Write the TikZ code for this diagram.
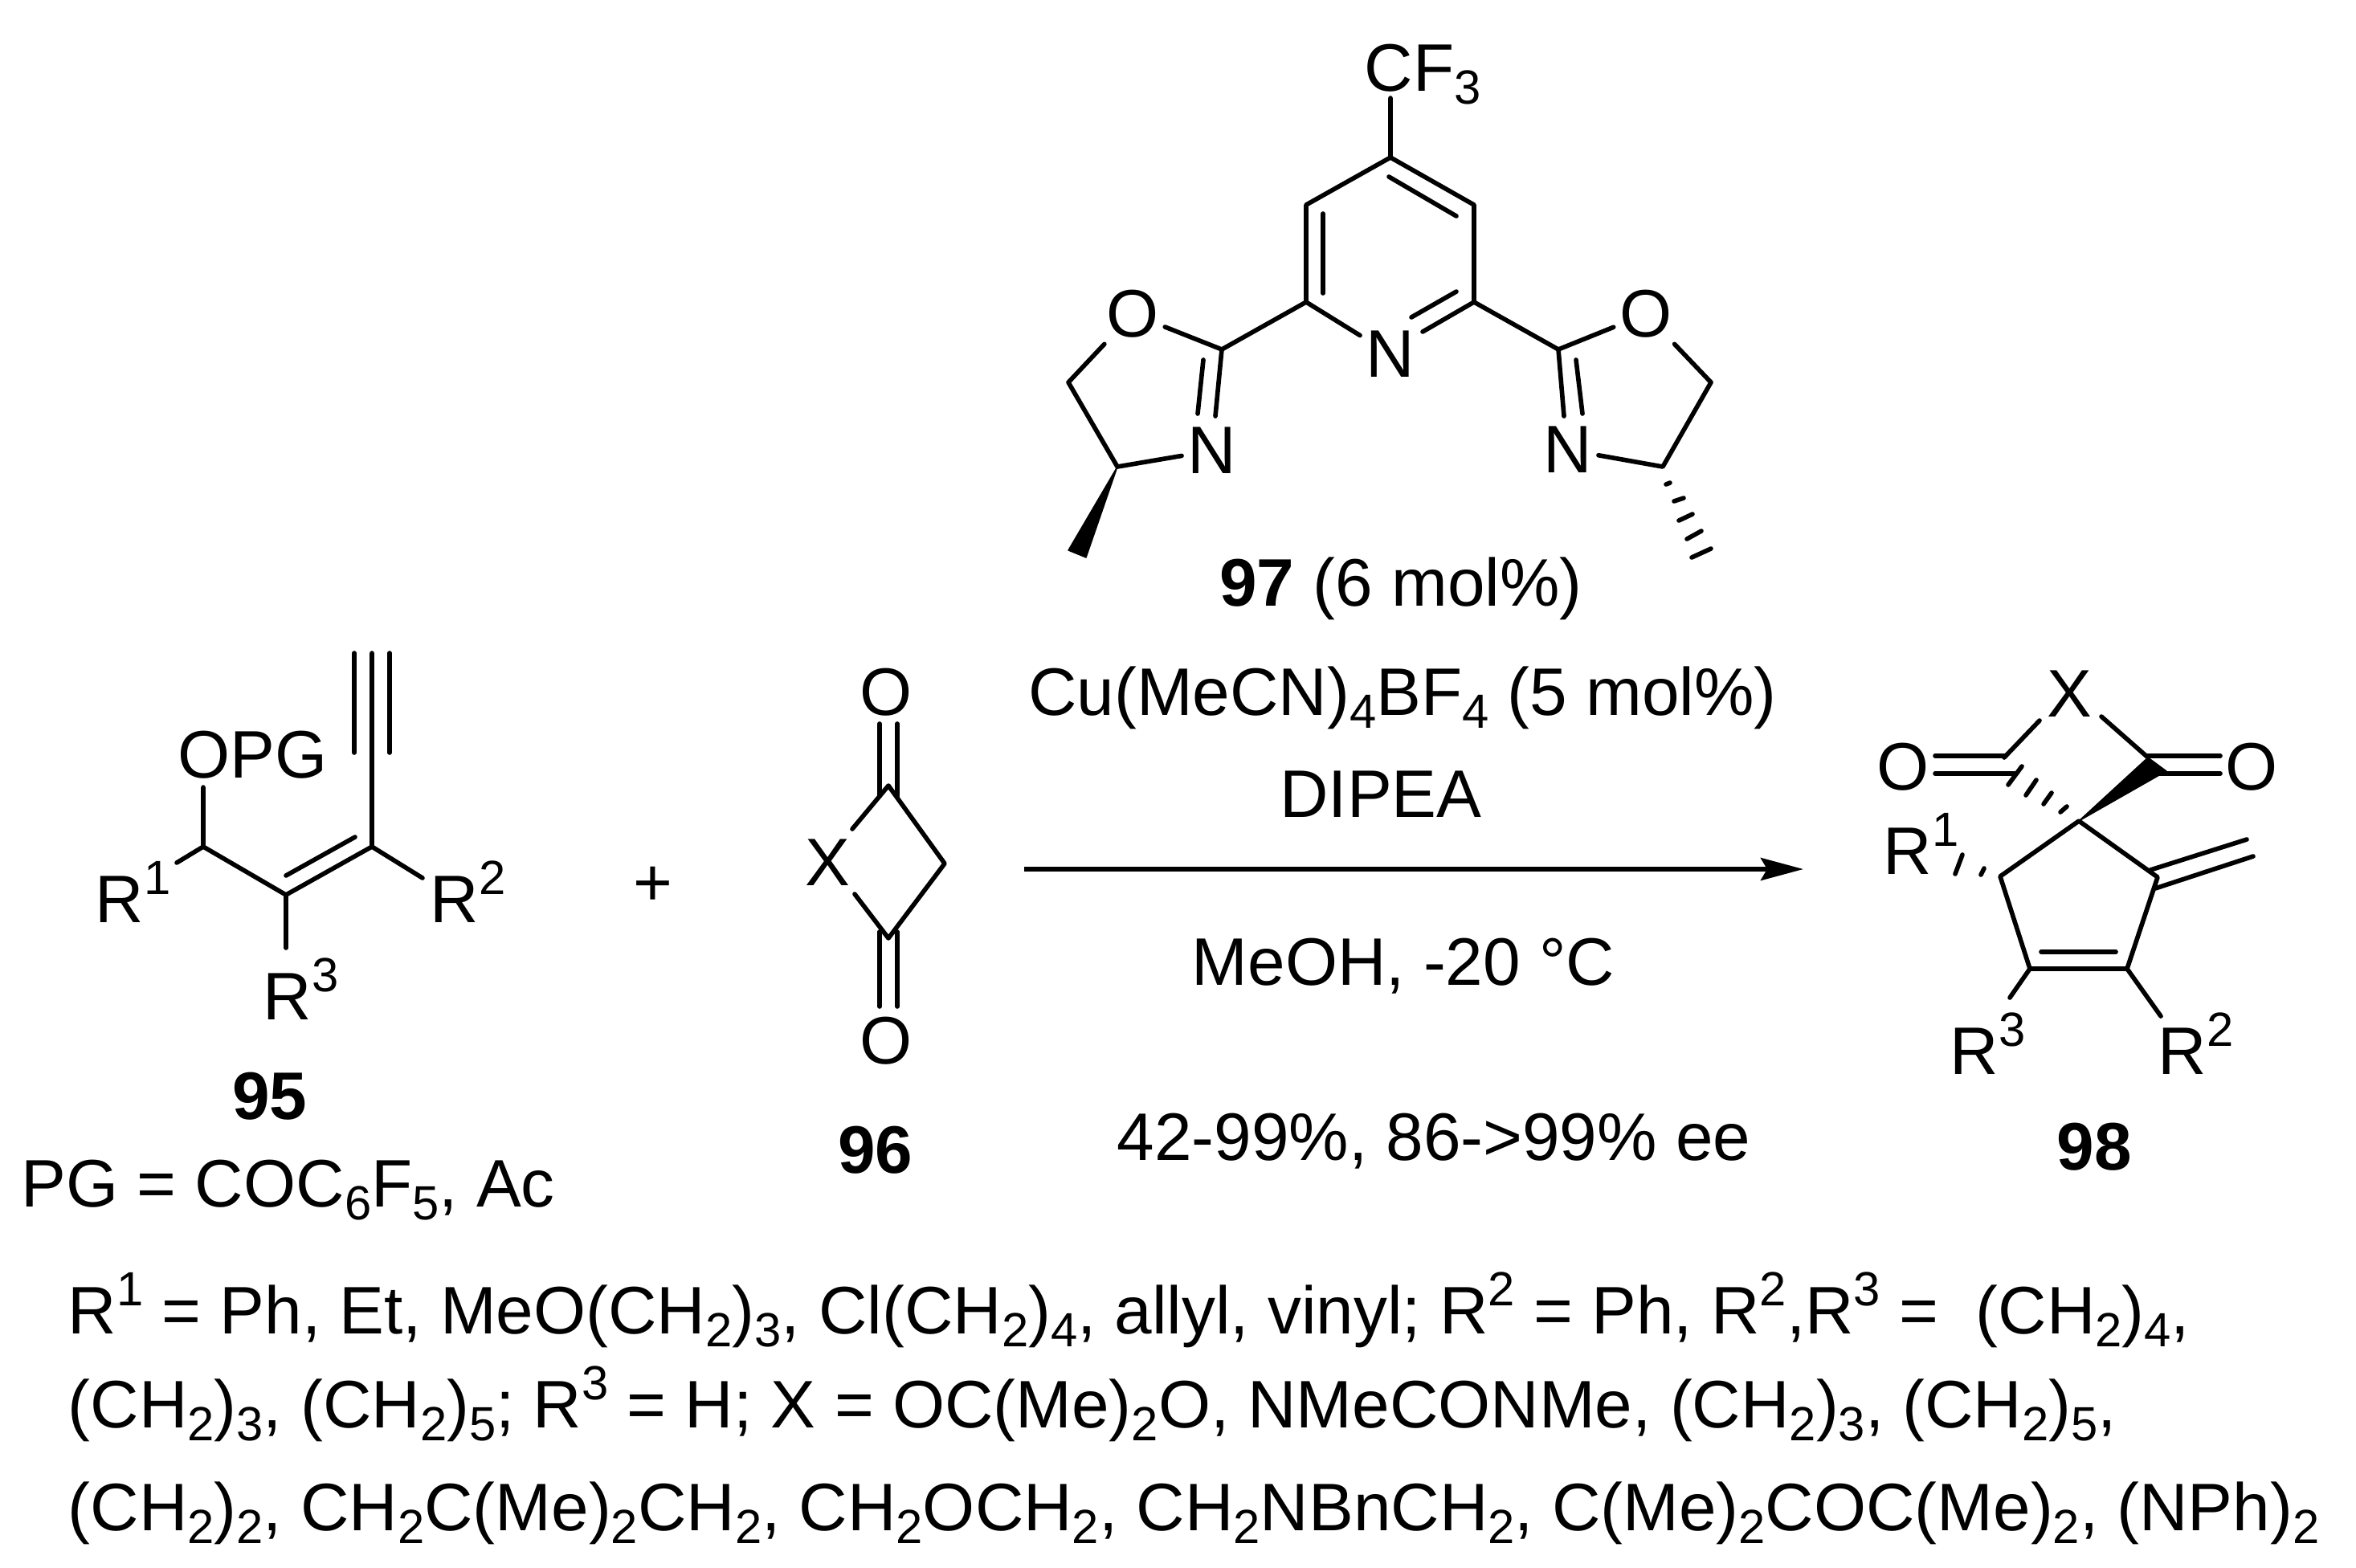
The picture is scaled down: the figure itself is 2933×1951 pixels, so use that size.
\documentclass[tikz,border=0pt]{standalone}
\usepackage{fontspec}
\setmainfont{Liberation Sans}
\usetikzlibrary{arrows.meta}
\newcommand{\sbs}[1]{\raisebox{-0.2em}{\fontsize{17}{18}\selectfont #1}}
\newcommand{\sps}[1]{\raisebox{0.41em}{\fontsize{17}{18}\selectfont #1}}
\tikzset{
	bond/.style={line width=1.6pt, line cap=round, line join=round},
	hashb/.style={line width=1.6pt, line cap=round},
	wedgeb/.style={fill=black, draw=black, line width=0.4pt, line join=round},
	atom/.style={inner sep=0.07cm, font=\fontsize{23.8}{27}\selectfont},
	lbl/.style={anchor=base west, inner sep=0pt, font=\fontsize{23.8}{27}\selectfont},
	cpd/.style={anchor=base, inner sep=0pt, font=\fontsize{23.8}{27}\selectfont\bfseries},
}
\begin{document}
\begin{tikzpicture}[x=0.01cm, y=-0.01cm]
	\useasboundingbox (0,0) rectangle (2933,1951);

	%%%%% ligand 97 %%%%%
	\coordinate (c4) at (1731,196);
	\coordinate (c3r) at (1835,255);
	\coordinate (c2r) at (1835,376);
	\coordinate (c3l) at (1626,255);
	\coordinate (c2l) at (1626,376);
	\coordinate (oxl) at (1521,435);
	\coordinate (chl) at (1330,476);
	\coordinate (cml) at (1391,581);
	\coordinate (oxr) at (1940,435);
	\coordinate (chr) at (2130,476);
	\coordinate (cmr) at (2070,581);
	\node[atom] (npy) at (1731,441) {N};
	\node[atom] (ool) at (1410,391) {O};
	\node[atom] (nol) at (1509,561) {N};
	\node[atom] (oor) at (2049,391) {O};
	\node[atom] (nor) at (1952,560) {N};
	\node[lbl] (cf) at (1698,113) {CF\sbs{3}};
	\coordinate (cft) at (1731,122);

	\draw[bond] (cft) -- (c4) -- (c3r) -- (c2r);
	\draw[bond] (c4) -- (c3l) -- (c2l) -- (npy);
	\draw[bond] (c2r) -- (1771,413);
	\draw[bond] (1757,395) -- (1813,363);
	\draw[bond] (1647,266) -- (1647,365);
	\draw[bond] (1729,220) -- (1813,269);
	\draw[bond] (c2l) -- (oxl) -- (ool);
	\draw[bond] (ool) -- (chl) -- (cml) -- (nol);
	\draw[bond] (oxl) -- (1513,518);
	\draw[bond] (1498,448) -- (1491,515);
	\draw[wedgeb] (cml) -- (1330,685) -- (1352,694) -- cycle;
	\draw[bond] (c2r) -- (oxr) -- (oor);
	\draw[bond] (oor) -- (chr) -- (cmr) -- (nor);
	\draw[bond] (oxr) -- (1947,518);
	\draw[bond] (1962,448) -- (1970,515);
	\draw[hashb] (2074,603) -- (2079,601);
	\draw[hashb] (2084,624) -- (2096,620);
	\draw[hashb] (2090,648) -- (2107,640);
	\draw[hashb] (2100,671) -- (2118,661);
	\draw[hashb] (2106,694) -- (2130,683);

	%%%%% enyne 95 %%%%%
	\coordinate (a1) at (253,1054);
	\coordinate (a2) at (356,1114);
	\coordinate (a3) at (463,1054);
	\coordinate (opgb) at (253,980);
	\coordinate (r1b) at (220,1074);
	\coordinate (r2b) at (526,1093);
	\coordinate (r3b) at (356,1180);
	\coordinate (tri) at (463,813);
	\node[lbl] (opg) at (221,968) {OPG};
	\node[lbl] (ar1) at (118,1148) {R\sps{1}};
	\node[lbl] (ar2) at (535,1148) {R\sps{2}};
	\node[lbl] (ar3) at (327,1269) {R\sps{3}};
	\node[cpd] (n95) at (336,1393) {95};
	\node[lbl] (pgdef) at (26,1502) {PG = COC\sbs{6}F\sbs{5}, Ac};
	\node[atom] (plus) at (813,1103) {+};

	\draw[bond] (opgb) -- (a1) -- (a2) -- (a3) -- (tri);
	\draw[bond] (a1) -- (r1b);
	\draw[bond] (a3) -- (r2b);
	\draw[bond] (a2) -- (r3b);
	\draw[bond] (356,1090) -- (442,1042);
	\draw[bond] (441,813) -- (441,937);
	\draw[bond] (485,813) -- (485,937);

	%%%%% diketone 96 %%%%%
	\coordinate (b1) at (1106,978);
	\coordinate (b2) at (1176,1075);
	\coordinate (b3) at (1106,1168);
	\coordinate (bx1) at (1061,1032);
	\coordinate (bx2) at (1064,1113);
	\node[atom] (bo1) at (1103,862) {O};
	\node[atom] (bo2) at (1103,1296) {O};
	\node[atom] (bx) at (1030,1074) {X};
	\node[cpd] (n96) at (1090,1460) {96};

	\draw[bond] (bx1) -- (b1) -- (b2) -- (b3) -- (bx2);
	\draw[bond] (1095,901) -- (1095,991);
	\draw[bond] (1117,901) -- (1117,991);
	\draw[bond] (1095,1160) -- (1095,1253);
	\draw[bond] (1117,1160) -- (1117,1253);

	%%%%% conditions %%%%%
	\node[lbl, anchor=base] (t97) at (1744,754) {\textbf{97} (6 mol\%)};
	\node[lbl, anchor=base] (tcu) at (1746,890) {Cu(MeCN)\sbs{4}BF\sbs{4} (5 mol\%)};
	\node[lbl, anchor=base] (tdi) at (1719,1017) {DIPEA};
	\node[lbl, anchor=base] (tme) at (1747,1226) {MeOH, -20 °C};
	\node[lbl, anchor=base] (tyi) at (1785,1444) {42-99\%, 86->99\% ee};
	\coordinate (arrs) at (1275,1082);
	\coordinate (arre) at (2245,1082);
	\draw[line width=1.6pt, -{Stealth[length=0.53cm, width=0.28cm, inset=0.08cm]}] (arrs) -- (arre);

	%%%%% product 98 %%%%%
	\coordinate (sp) at (2588,1022);
	\coordinate (pl) at (2495,943);
	\coordinate (pr) at (2674,943);
	\coordinate (q1) at (2490,1091);
	\coordinate (q2) at (2686,1092);
	\coordinate (q3) at (2648,1206);
	\coordinate (q4) at (2527,1206);
	\coordinate (xl) at (2539,897);
	\coordinate (xr) at (2616,892);
	\coordinate (qr3) at (2502,1242);
	\coordinate (qr2) at (2690,1265);
	\node[atom] (px) at (2576,864) {X};
	\node[atom] (pol) at (2369,955) {O};
	\node[atom] (por) at (2803,955) {O};
	\node[lbl] (pr1) at (2344,1088) {R\sps{1}};
	\node[lbl] (pr3) at (2427,1337) {R\sps{3}};
	\node[lbl] (pr2) at (2686,1337) {R\sps{2}};
	\node[cpd] (n98) at (2607,1456) {98};

	\draw[bond] (xl) -- (pl);
	\draw[bond] (xr) -- (pr);
	\draw[bond] (sp) -- (q1) -- (q4) -- (q3) -- (q2) -- cycle;
	\draw[bond] (q4) -- (qr3);
	\draw[bond] (q3) -- (qr2);
	\draw[bond] (2541,1185) -- (2634,1185);
	\draw[bond] (2677,1083) -- (2797,1045);
	\draw[bond] (2683,1106) -- (2805,1066);
	\draw[bond] (2409,941) -- (2497,941);
	\draw[bond] (2409,963) -- (2508,963);
	\draw[bond] (2674,941) -- (2764,941);
	\draw[bond] (2688,963) -- (2764,963);
	\draw[wedgeb] (sp) -- (pr) -- (2697,960) -- (2688,965) -- cycle;
	\draw[hashb] (2500,977) -- (2517,954);
	\draw[hashb] (2522,990) -- (2535,971);
	\draw[hashb] (2544,1001) -- (2554,987);
	\draw[hashb] (2565,1011) -- (2573,1004);
	\draw[hashb] (2434,1088) -- (2443,1064);
	\draw[hashb] (2466,1089) -- (2470,1081);

	%%%%% substituents %%%%%
	\node[lbl] (la) at (84,1660) {R\sps{1} = Ph, Et, MeO(CH\sbs{2})\sbs{3}, Cl(CH\sbs{2})\sbs{4}, allyl, vinyl; R\sps{2} = Ph, R\sps{2},R\sps{3} =~ (CH\sbs{2})\sbs{4},};
	\node[lbl] (lb) at (84,1777) {(CH\sbs{2})\sbs{3}, (CH\sbs{2})\sbs{5}; R\sps{3} = H; X = OC(Me)\sbs{2}O, NMeCONMe, (CH\sbs{2})\sbs{3}, (CH\sbs{2})\sbs{5},};
	\node[lbl] (lc) at (84,1905) {(CH\sbs{2})\sbs{2}, CH\sbs{2}C(Me)\sbs{2}CH\sbs{2}, CH\sbs{2}OCH\sbs{2}, CH\sbs{2}NBnCH\sbs{2}, C(Me)\sbs{2}COC(Me)\sbs{2}, (NPh)\sbs{2}};
\end{tikzpicture}
\end{document}
